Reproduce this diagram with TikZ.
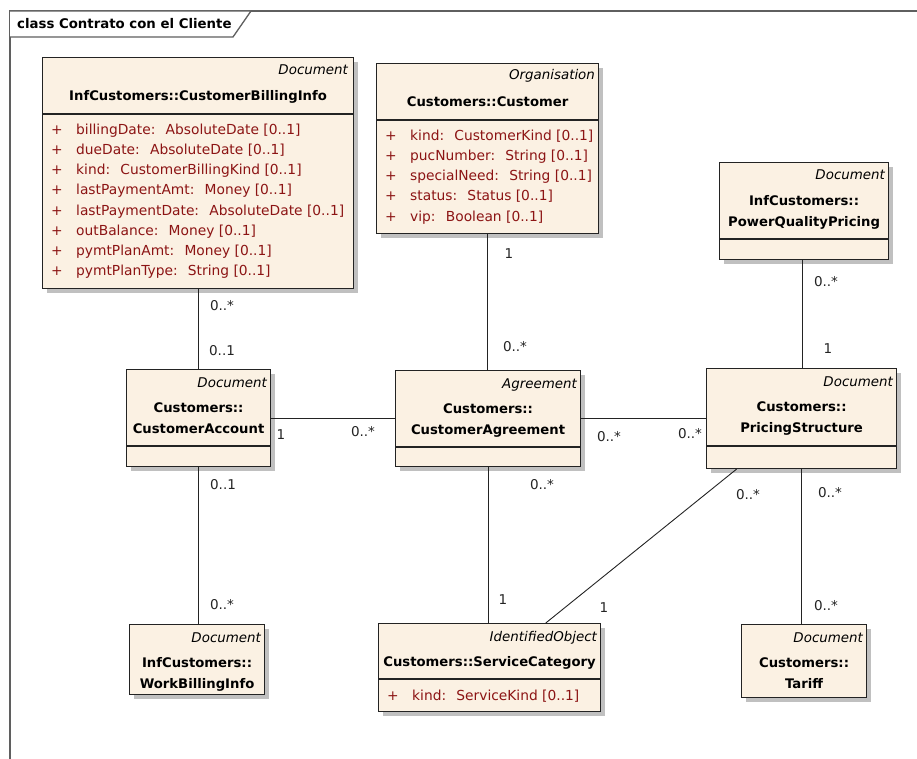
\documentclass[tikz,border=0pt]{standalone}
\usepackage{fontspec}
\setmainfont{DejaVu Sans}
\usetikzlibrary{shadows,calc}

\definecolor{classfill}{RGB}{251,241,227}
\definecolor{attrred}{RGB}{140,20,20}
\definecolor{edgeink}{RGB}{35,35,35}
\definecolor{framegray}{RGB}{95,95,95}
\definecolor{shade}{RGB}{192,192,192}

\tikzset{
  x=1pt, y=-1pt,
  classbox/.style={draw=edgeink, line width=1.1pt, fill=classfill, anchor=north west,
    inner sep=0pt,
    drop shadow={shadow xshift=4pt, shadow yshift=-4pt, fill=shade, opacity=1}},
  sepline/.style={draw=edgeink, line width=1.1pt},
  stereo/.style={anchor=base east, inner sep=0pt, font=\itshape\fontsize{13.4}{15}\selectfont},
  cname/.style={anchor=north, inner sep=0pt, font=\bfseries\fontsize{13.2}{20.5}\selectfont},
  attrs/.style={anchor=north west, inner sep=0pt, text=attrred, font=\fontsize{13.8}{20.2}\selectfont},
  assoc/.style={draw=edgeink, line width=0.9pt},
  mult/.style={inner sep=0pt, font=\fontsize{13.5}{15}\selectfont, text=edgeink},
  framepen/.style={draw=framegray, line width=1.3pt},
  titletext/.style={anchor=west, inner sep=0pt, font=\bfseries\fontsize{13.3}{15}\selectfont}
}
\newcommand{\attrplus}{\makebox[25pt][l]{+}}

\begin{document}
\begin{tikzpicture}
\useasboundingbox (0,0) rectangle (917,759);

% diagram frame and its name tab
\draw[framepen] (10,759) -- (10,11) -- (917,11);
\draw[framepen, fill=white] (10,11) -- (251,11) -- (233,37) -- (10,37);
\node[titletext] (title) at (17,24) {class Contrato con el Cliente};

% ---- classes ----
% InfCustomers::CustomerBillingInfo
\node[classbox, minimum width=311pt, minimum height=231pt] (cbi) at (42,57) {};
\draw[sepline] ([yshift=-57pt]cbi.north west) -- ([yshift=-57pt]cbi.north east);
\node[stereo] (cbi-st) at ([xshift=-6pt,yshift=-18pt]cbi.north east) {Document};
\node[cname] (cbi-nm) at ([yshift=-29pt]cbi.north) {\begin{tabular}{@{}c@{}}InfCustomers::CustomerBillingInfo\end{tabular}};
\node[attrs] (cbi-at) at ([xshift=9pt,yshift=-63pt]cbi.north west) {\begin{tabular}{@{}l@{}}
\attrplus billingDate:~ AbsoluteDate [0..1]\\
\attrplus dueDate:~ AbsoluteDate [0..1]\\
\attrplus kind:~ CustomerBillingKind [0..1]\\
\attrplus lastPaymentAmt:~ Money [0..1]\\
\attrplus lastPaymentDate:~ AbsoluteDate [0..1]\\
\attrplus outBalance:~ Money [0..1]\\
\attrplus pymtPlanAmt:~ Money [0..1]\\
\attrplus pymtPlanType:~ String [0..1]
\end{tabular}};

% Customers::Customer
\node[classbox, minimum width=222pt, minimum height=170pt] (cust) at (376,63) {};
\draw[sepline] ([yshift=-57pt]cust.north west) -- ([yshift=-57pt]cust.north east);
\node[stereo] (cust-st) at ([xshift=-4pt,yshift=-17pt]cust.north east) {Organisation};
\node[cname] (cust-nm) at ([yshift=-29pt]cust.north) {\begin{tabular}{@{}c@{}}Customers::Customer\end{tabular}};
\node[attrs] (cust-at) at ([xshift=9pt,yshift=-63pt]cust.north west) {\begin{tabular}{@{}l@{}}
\attrplus kind:~ CustomerKind [0..1]\\
\attrplus pucNumber:~ String [0..1]\\
\attrplus specialNeed:~ String [0..1]\\
\attrplus status:~ Status [0..1]\\
\attrplus vip:~ Boolean [0..1]
\end{tabular}};

% InfCustomers::PowerQualityPricing
\node[classbox, minimum width=169pt, minimum height=97pt] (pqp) at (719,162) {};
\draw[sepline] ([yshift=-77pt]pqp.north west) -- ([yshift=-77pt]pqp.north east);
\node[stereo] (pqp-st) at ([xshift=-4pt,yshift=-18pt]pqp.north east) {Document};
\node[cname] (pqp-nm) at ([yshift=-29pt]pqp.north) {\begin{tabular}{@{}c@{}}InfCustomers::\\PowerQualityPricing\end{tabular}};

% Customers::CustomerAccount
\node[classbox, minimum width=144pt, minimum height=97pt] (ca) at (126,369) {};
\draw[sepline] ([yshift=-77pt]ca.north west) -- ([yshift=-77pt]ca.north east);
\node[stereo] (ca-st) at ([xshift=-4pt,yshift=-18pt]ca.north east) {Document};
\node[cname] (ca-nm) at ([yshift=-29pt]ca.north) {\begin{tabular}{@{}c@{}}Customers::\\CustomerAccount\end{tabular}};

% Customers::CustomerAgreement
\node[classbox, minimum width=185pt, minimum height=96pt] (cagr) at (395,370) {};
\draw[sepline] ([yshift=-77pt]cagr.north west) -- ([yshift=-77pt]cagr.north east);
\node[stereo] (cagr-st) at ([xshift=-4pt,yshift=-18pt]cagr.north east) {Agreement};
\node[cname] (cagr-nm) at ([yshift=-29pt]cagr.north) {\begin{tabular}{@{}c@{}}Customers::\\CustomerAgreement\end{tabular}};

% Customers::PricingStructure
\node[classbox, minimum width=190pt, minimum height=100pt] (ps) at (706,368) {};
\draw[sepline] ([yshift=-78pt]ps.north west) -- ([yshift=-78pt]ps.north east);
\node[stereo] (ps-st) at ([xshift=-4pt,yshift=-18pt]ps.north east) {Document};
\node[cname] (ps-nm) at ([yshift=-29pt]ps.north) {\begin{tabular}{@{}c@{}}Customers::\\PricingStructure\end{tabular}};

% InfCustomers::WorkBillingInfo
\node[classbox, minimum width=135pt, minimum height=70pt] (wbi) at (129,624) {};
\node[stereo] (wbi-st) at ([xshift=-4pt,yshift=-18pt]wbi.north east) {Document};
\node[cname] (wbi-nm) at ([yshift=-29pt]wbi.north) {\begin{tabular}{@{}c@{}}InfCustomers::\\WorkBillingInfo\end{tabular}};

% Customers::ServiceCategory
\node[classbox, minimum width=222pt, minimum height=88pt] (sc) at (378,623) {};
\draw[sepline] ([yshift=-56pt]sc.north west) -- ([yshift=-56pt]sc.north east);
\node[stereo] (sc-st) at ([xshift=-4pt,yshift=-18pt]sc.north east) {IdentifiedObject};
\node[cname] (sc-nm) at ([yshift=-29pt]sc.north) {\begin{tabular}{@{}c@{}}Customers::ServiceCategory\end{tabular}};
\node[attrs] (sc-at) at ([xshift=9pt,yshift=-63pt]sc.north west) {\begin{tabular}{@{}l@{}}
\attrplus kind:~ ServiceKind [0..1]
\end{tabular}};

% Customers::Tariff
\node[classbox, minimum width=125pt, minimum height=73pt] (tariff) at (741,624) {};
\node[stereo] (tariff-st) at ([xshift=-4pt,yshift=-18pt]tariff.north east) {Document};
\node[cname] (tariff-nm) at ([yshift=-29pt]tariff.north) {\begin{tabular}{@{}c@{}}Customers::\\Tariff\end{tabular}};

% ---- associations ----
\draw[assoc] (cbi.south) -- (cbi.south |- ca.north);
\draw[assoc] (cust.south) -- (cust.south |- cagr.north);
\draw[assoc] ([xshift=-1.5pt]pqp.south) -- ([xshift=-1.5pt]pqp.south |- ps.north);
\draw[assoc] (ca.east) -- (ca.east -| cagr.west);
\draw[assoc] (cagr.east) -- (cagr.east -| ps.west);
\draw[assoc] (ca.south) -- (ca.south |- wbi.north);
\draw[assoc] (cagr.south) -- (cagr.south |- sc.north);
\draw[assoc] ($(ps.south west)!0.16!(ps.south east)$) -- ($(sc.north west)!0.752!(sc.north east)$);
\draw[assoc] (ps.south) -- (ps.south |- tariff.north);

% ---- multiplicities ----
\node[mult] (m-cbi-a) at (222,306) {0..*};
\node[mult] (m-cbi-b) at (222,351) {0..1};
\node[mult] (m-cust-a) at (509,254) {1};
\node[mult] (m-cust-b) at (515,347) {0..*};
\node[mult] (m-pqp-a) at (826,282) {0..*};
\node[mult] (m-pqp-b) at (828,349) {1};
\node[mult] (m-ca-a) at (281,435) {1};
\node[mult] (m-ca-b) at (363,432) {0..*};
\node[mult] (m-agr-a) at (609,437) {0..*};
\node[mult] (m-agr-b) at (690,434) {0..*};
\node[mult] (m-wbi-a) at (223,485) {0..1};
\node[mult] (m-wbi-b) at (222,605) {0..*};
\node[mult] (m-sc-a) at (542,485) {0..*};
\node[mult] (m-sc-b) at (503,600) {1};
\node[mult] (m-ps-a) at (748,495) {0..*};
\node[mult] (m-ps-b) at (604,608) {1};
\node[mult] (m-tar-a) at (830,493) {0..*};
\node[mult] (m-tar-b) at (826,606) {0..*};
\end{tikzpicture}
\end{document}
